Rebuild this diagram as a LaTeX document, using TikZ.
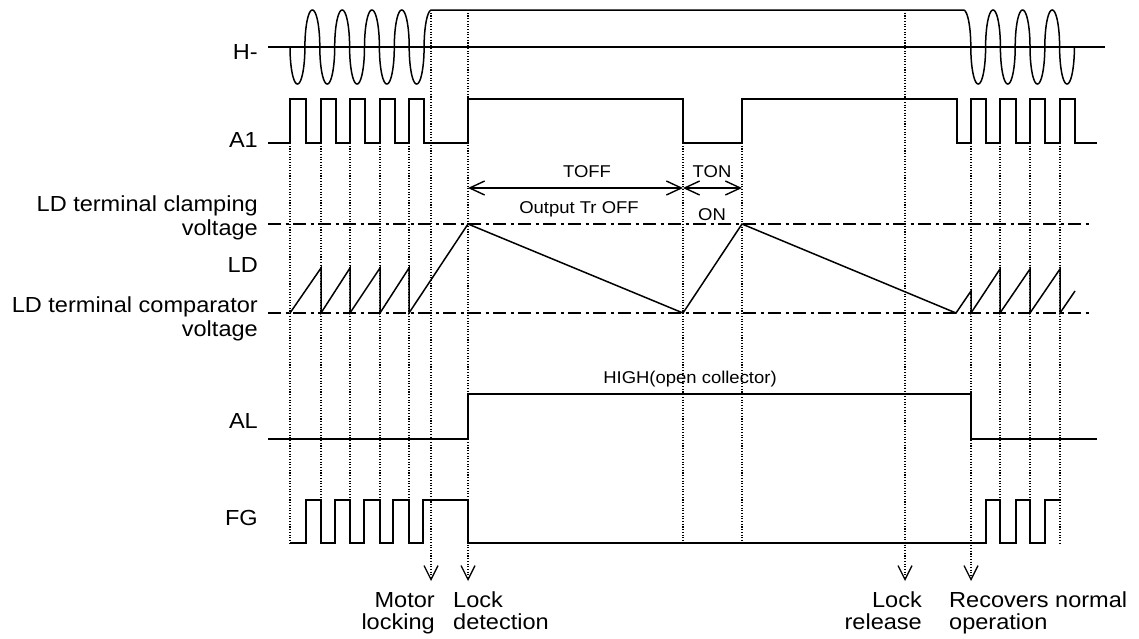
\documentclass[tikz,border=0pt]{standalone}
\usepackage{fontspec}
\setmainfont{Liberation Sans}[FakeStretch=1.08]
\usetikzlibrary{arrows.meta,positioning}
\tikzset{
  wave/.style={line width=1.5pt, line join=miter},
  guide/.style={line width=1.1pt, dash pattern=on 1.1pt off 1.6pt},
  level/.style={line width=1.5pt, dash pattern=on 13pt off 4.5pt on 3pt off 4.5pt},
  signame/.style={anchor=east, align=right, inner sep=0pt,
                  font=\fontsize{21.8}{24}\selectfont},
  event/.style={anchor=base, inner sep=0pt, font=\fontsize{21.8}{22}\selectfont},
  note/.style={anchor=base, inner sep=0pt, font=\fontsize{17.1}{20}\selectfont},
  span/.style={{Straight Barb[length=15pt,width=14pt]}-{Straight Barb[length=15pt,width=14pt]},
               line width=1.4pt},
  evtarrow/.style={guide, -{Straight Barb[length=14pt,width=14pt,line width=1.3pt]}},
}
\begin{document}
\begin{tikzpicture}[x=1pt, y=-1pt]
  \useasboundingbox (0,0) rectangle (1139,638);
  % signal names
  \node[signame] (hlab) at (258,52) {H-};
  \node[signame] (a1lab) at (258,140) {A1};
  \node[signame, anchor=base east] (clamp) at (258,235) {LD terminal clamping\\voltage};
  \node[signame] (ldlab) at (258,265) {LD};
  \node[signame, anchor=base east] (comp) at (258,336) {LD terminal comparator\\voltage};
  \node[signame] (allab) at (258,421) {AL};
  \node[signame] (fglab) at (258,518) {FG};
  % H- : hall signal, lobes as half ellipses
  \draw[wave] (268,47) -- (1105,47);
  \draw[wave] plot[domain=0:1710, samples=457]
      ({290+14.9*(floor(\x/180)+(1-cos(mod(\x,180)))/2)},{47+37*sin(\x)})
    -- (963.4,10)
    -- plot[domain=90:1440, samples=361]
      ({956+14.8*(floor(\x/180)+(1-cos(mod(\x,180)))/2)},{47-37*sin(\x)});
  % A1
  \draw[wave] (268,143)
    foreach \a/\b in {290/306,321/336,350/365,380/395,409/424,468/683,742/957,971/986,1000/1016,1030/1045,1060/1075}
      { -- (\a,143) -- (\a,99) -- (\b,99) -- (\b,143) } -- (1097,143);
  % LD levels and sawtooth
  \draw[level] (268,224) -- (1092,224);
  \draw[level] (268,313) -- (1092,313);
  \draw[wave] (290,313) foreach \p in {321,350,380,409} { -- (\p,268) -- (\p,313) }
    -- (468,224) -- (683,313) -- (742,224) -- (956,313) -- (971,291) -- (971,313)
    foreach \p in {1000,1030,1060} { -- (\p,269) -- (\p,313) } -- (1075,291);
  % AL
  \draw[wave] (268,439) -- (468,439) -- (468,394) -- (971,394) -- (971,439) -- (1097,439);
  % FG
  \draw[wave] (290,543)
    foreach \a/\b in {306/321,335/350,364/380,393/409} { -- (\a,543) -- (\a,500) -- (\b,500) -- (\b,543) }
    -- (423,543) -- (423,500) -- (468,500) -- (468,543)
    foreach \a/\b in {986/1000,1016/1030} { -- (\a,543) -- (\a,500) -- (\b,500) -- (\b,543) }
    -- (1045,543) -- (1045,500) -- (1060,500);
  % timing guides
  \foreach \t in {290,321,350,380,409,683,742,1000,1030,1060}
    \draw[guide] (\t,143) -- (\t,543);
  % TOFF / TON
  \coordinate (offL) at (468,188);
  \coordinate (offR) at (683,188);
  \coordinate (onR) at (742,188);
  \draw[span] (offL) -- (offR);
  \draw[span] (offR) -- (onR);
  \node[note] (toff) at (587,177) {TOFF};
  \node[note] (ton) at (712,177) {TON};
  \node[note] (troff) at (579,213) {Output Tr OFF};
  \node[note] (tron) at (712,220) {ON};
  \node[note] (high) at (690,383) {HIGH(open collector)};
  % events
  \coordinate (motorT) at (431,10);  \coordinate (motorB) at (431,581);
  \coordinate (detT) at (468,10);    \coordinate (detB) at (468,581);
  \coordinate (relT) at (905,10);    \coordinate (relB) at (905,581);
  \coordinate (recT) at (971,143);   \coordinate (recB) at (971,581);
  \draw[evtarrow] (motorT) -- (motorB);
  \draw[evtarrow] (detT) -- (detB);
  \draw[evtarrow] (relT) -- (relB);
  \draw[evtarrow] (recT) -- (recB);
  \node[event, anchor=base east, align=right] (motor) at (435,629) {Motor\\locking};
  \node[event, anchor=base west, align=left] (detect) at (453,629) {Lock\\detection};
  \node[event, anchor=base east, align=right] (release) at (922,629) {Lock\\release};
  \node[event, anchor=base west, align=left] (recover) at (949,629) {Recovers normal\\operation};
\end{tikzpicture}
\end{document}
